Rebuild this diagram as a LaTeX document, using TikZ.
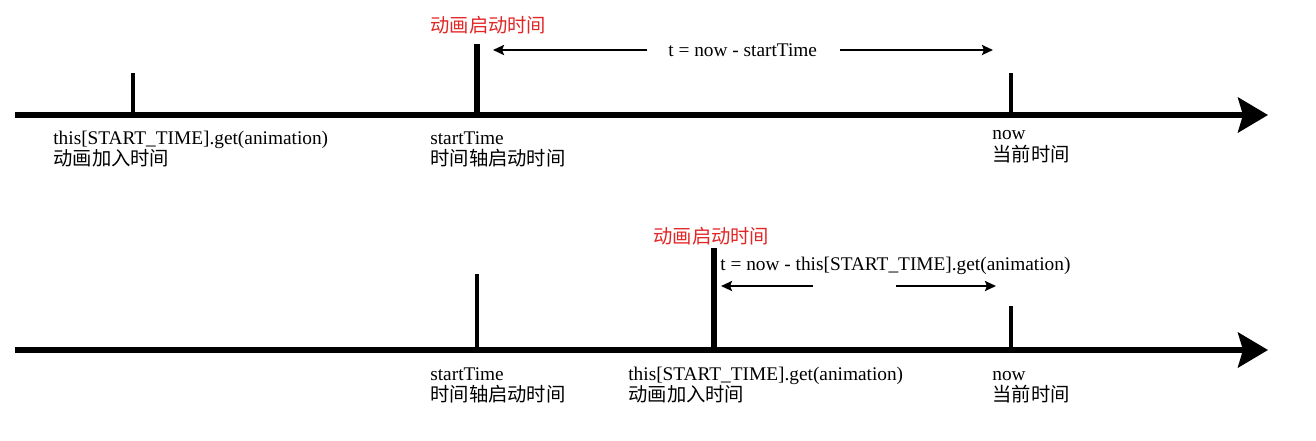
\documentclass[tikz,border=0pt]{standalone}
\usepackage{fontspec}
\setmainfont{Liberation Serif}
\newfontfamily\cjk{Noto Sans CJK SC}
\usetikzlibrary{arrows.meta}
\definecolor{labelred}{RGB}{226,38,38}
\tikzset{
  axis/.style={line width=0.11cm,
    -{Stealth[length=0.6cm,width=0.7cm,inset=0.1cm]}},
  tick/.style={line width=0.09cm},
  bigtick/.style={line width=0.11cm},
  span/.style={line width=0.05cm,
    -{Stealth[length=0.22cm,width=0.2cm,inset=0.04cm]}},
  lbl/.style={anchor=base west,inner sep=0pt,
    font=\fontsize{11}{13}\selectfont},
  cjklbl/.style={lbl,font=\fontsize{11}{13}\selectfont\cjk},
  redlbl/.style={cjklbl,text=labelred},
}

\begin{document}
\begin{tikzpicture}[x=0.02cm,y=-0.02cm]
\useasboundingbox (0,0) rectangle (1316,440);
% upper timeline
\coordinate (a1s) at (15,115);
\coordinate (a1e) at (1268,115);
\draw[axis] (a1s) -- (a1e);
\coordinate (add1) at (133,115);
\coordinate (add1t) at (133,73);
\coordinate (start1) at (477,115);
\coordinate (start1t) at (477,44);
\coordinate (now1) at (1011,115);
\coordinate (now1t) at (1011,73);
\draw[tick] (add1) -- (add1t);
\draw[bigtick] (start1) -- (start1t);
\draw[tick] (now1) -- (now1t);
\node[lbl] (add1l) at (53,144) {this[START\_TIME].get(animation)};
\node[cjklbl] (add1c) at (53,165) {动画加入时间};
\node[lbl] (start1l) at (430,144) {startTime};
\node[cjklbl] (start1c) at (430,165) {时间轴启动时间};
\node[lbl] (now1l) at (992,139) {now};
\node[cjklbl] (now1c) at (992,161) {当前时间};
\node[redlbl] (run1) at (430,32) {动画启动时间};
\node[lbl] (t1) at (668,56) {t = now - startTime};
\coordinate (t1a) at (647,50);
\coordinate (t1b) at (493,50);
\coordinate (t1c) at (840,50);
\coordinate (t1d) at (993,50);
\draw[span] (t1a) -- (t1b);
\draw[span] (t1c) -- (t1d);
% lower timeline
\coordinate (a2s) at (15,350);
\coordinate (a2e) at (1268,350);
\draw[axis] (a2s) -- (a2e);
\coordinate (start2) at (477,350);
\coordinate (start2t) at (477,274);
\coordinate (add2) at (714,350);
\coordinate (add2t) at (714,248);
\coordinate (now2) at (1011,350);
\coordinate (now2t) at (1011,306);
\draw[tick] (start2) -- (start2t);
\draw[bigtick] (add2) -- (add2t);
\draw[tick] (now2) -- (now2t);
\node[lbl] (start2l) at (430,380) {startTime};
\node[cjklbl] (start2c) at (430,401) {时间轴启动时间};
\node[lbl] (add2l) at (628,380) {this[START\_TIME].get(animation)};
\node[cjklbl] (add2c) at (628,401) {动画加入时间};
\node[lbl] (now2l) at (992,380) {now};
\node[cjklbl] (now2c) at (992,401) {当前时间};
\node[redlbl] (run2) at (653,243) {动画启动时间};
\node[lbl] (t2) at (720,270) {t = now - this[START\_TIME].get(animation)};
\coordinate (t2a) at (813,286);
\coordinate (t2b) at (721,286);
\coordinate (t2c) at (896,286);
\coordinate (t2d) at (996,286);
\draw[span] (t2a) -- (t2b);
\draw[span] (t2c) -- (t2d);
\end{tikzpicture}
\end{document}
